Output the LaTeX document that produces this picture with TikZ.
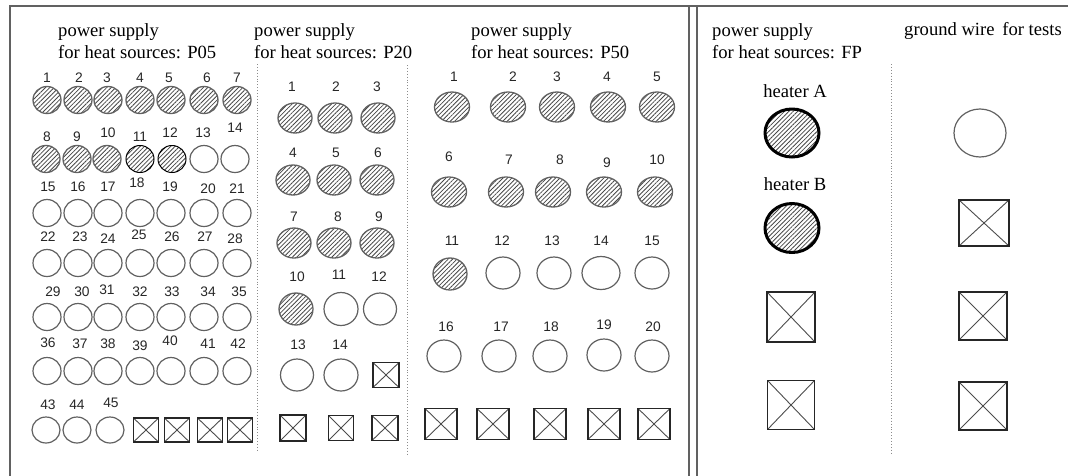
\documentclass[tikz,border=0pt]{standalone}
\usepackage{fontspec}
\setmainfont{Liberation Serif}
\newfontfamily\numfont{Liberation Sans}
\usetikzlibrary{shapes.geometric,patterns.meta}

\begin{document}
\begin{tikzpicture}[x=1pt,y=-1pt,
  frame/.style={draw=black!62, line width=1.3pt},
  divider/.style={draw=black!45, line width=0.9pt, dotted},
  title/.style={anchor=base west, font=\fontsize{18.6}{20}\selectfont, inner sep=0pt},
  heatlbl/.style={anchor=base, font=\fontsize{18.6}{20}\selectfont, inner sep=0pt},
  num/.style={font=\numfont\fontsize{13.8}{15}\selectfont, inner sep=0pt, text=black!85},
  hot/.style={ellipse, draw=black!62, line width=1.3pt, inner sep=0pt,
    pattern={Lines[angle=45,distance=3.1pt,line width=0.8pt]}, pattern color=black!72},
  hotdark/.style={hot, draw=black, line width=1pt},
  heater/.style={hot, draw=black, line width=3pt},
  cold/.style={ellipse, draw=black!62, line width=1.2pt, inner sep=0pt},
  plug/.style={draw=black!85, line width=1.4pt, inner sep=0pt,
    path picture={\draw[black!70, line width=0.9pt]
      (path picture bounding box.north west) -- (path picture bounding box.south east)
      (path picture bounding box.south west) -- (path picture bounding box.north east);}},
  sz/.style 2 args={minimum width=#1pt, minimum height=#2pt}
]
\useasboundingbox (0,0) rectangle (1068,475);

% ---- frames ----
\draw[frame] (10,480) -- (10,6) -- (1075,6);
\draw[frame] (689,480) -- (689,6);
\draw[frame] (697,480) -- (697,6);

% ---- dotted dividers ----
\draw[divider] (257,64) -- (257,451);
\draw[divider] (407,65) -- (407,456);
\draw[divider] (891,64) -- (891,453);

% ---- titles ----
\node[title] (t05a) at (58,36) {power supply};
\node[title] (t05b) at (58,58) {for heat sources: P05};
\node[title] (t20a) at (254,36) {power supply};
\node[title] (t20b) at (254,58) {for heat sources: P20};
\node[title] (t50a) at (471,36) {power supply};
\node[title] (t50b) at (471,58) {for heat sources: P50};
\node[title] (tfpa) at (712,36) {power supply};
\node[title] (tfpb) at (712,58) {for heat sources: FP};
\node[title] (tgnd) at (904,35) {ground wire\,\ for tests};

% ---- P05 ----
\foreach \n/\x/\y in {1/47/100,2/78/100,3/108/100,4/140/100,5/171/100,6/204/100,7/237/100,
                      8/46/159,9/77/159,10/107/159}
  \node[hot, sz={28}{27}] (a\n) at (\x,\y) {};
\foreach \n/\x/\y in {11/140/159,12/172/159}
  \node[hotdark, sz={28}{27}] (a\n) at (\x,\y) {};
\node[cold, sz={28}{27}] (a13) at (204,159) {};
\node[cold, sz={28}{27}] (a14) at (235,159) {};
\foreach \r/\y in {2/213,3/263,4/317,5/371}
  \foreach \c/\x in {1/47,2/78,3/108,4/140,5/171,6/204,7/237}
    \pgfmathtruncatemacro{\n}{\r*7+\c}
    \node[cold, sz={28}{27}] (a\n) at (\x,\y) {};
\node[cold, sz={28}{26}] (a43) at (46,430) {};
\node[cold, sz={28}{26}] (a44) at (77,430) {};
\node[cold, sz={28}{26}] (a45) at (110,430) {};
\foreach \k/\x in {1/146,2/177,3/210,4/240}
  \node[plug, sz={25}{24}] (ab\k) at (\x,430) {};
\foreach \n/\x/\y in {1/47/78,2/79/78,3/107/78,4/140/78,5/169/78,6/207/78,7/237/78,
  8/47/137,9/77/137,10/108/133,11/140/137,12/170/133,13/203/133,14/235/128,
  15/48/187,16/78/187,17/108/187,18/137/183,19/170/187,20/208/189,21/237/189,
  22/48/237,23/80/237,24/108/239,25/139/235,26/172/237,27/205/237,28/235/239,
  29/53/292,30/82/292,31/107/290,32/140/292,33/172/292,34/208/292,35/239/292,
  36/48/343,37/80/344,38/108/344,39/140/346,40/170/341,41/208/344,42/238/344,
  43/48/405,44/77/405,45/111/403}
  \node[num] (la\n) at (\x,\y) {\n};

% ---- P20 ----
\foreach \n/\x/\y in {1/295/118,2/335/118,3/378/118,4/293/180,5/334/180,6/377/180,
                      7/294/243,8/334/243,9/377/243}
  \node[hot, sz={34}{30}] (b\n) at (\x,\y) {};
\node[hot, sz={34}{32}] (b10) at (296,309) {};
\node[cold, sz={34}{33}] (b11) at (341,309) {};
\node[cold, sz={33}{32}] (b12) at (380,309) {};
\node[cold, sz={33}{32}] (b13) at (297,375) {};
\node[cold, sz={34}{32}] (b14) at (341,375) {};
\node[plug, sz={26}{25}] (bb1) at (386,375) {};
\node[plug, sz={26}{26}] (bb2) at (293,428) {};
\node[plug, sz={25}{25}] (bb3) at (341,428) {};
\node[plug, sz={26}{25}] (bb4) at (385,428) {};
\foreach \n/\x/\y in {1/292/87,2/336/87,3/377/87,4/293/153,5/336/153,6/378/153,
  7/294/217,8/338/217,9/379/217,10/297/277,11/339/275,12/379/277,13/298/345,14/340/345}
  \node[num] (lb\n) at (\x,\y) {\n};

% ---- P50 ----
\foreach \n/\x/\y in {1/452/107,2/508/107,3/557/107,4/608/107,5/657/107,
                      6/449/192,7/506/192,8/553/192,9/604/192,10/655/192}
  \node[hot, sz={35}{30}] (c\n) at (\x,\y) {};
\node[hot, sz={34}{32}] (c11) at (450,274) {};
\foreach \n/\x/\y in {12/503/273,13/554/273,15/652/273,
                      16/444/356,17/499/356,18/550/356,19/604/355,20/652/356}
  \node[cold, sz={34}{32}] (c\n) at (\x,\y) {};
\node[cold, sz={38}{33}] (c14) at (601,273) {};
\foreach \k/\x in {1/441,2/493,3/550,4/604,5/654}
  \node[plug, sz={32}{31}] (cb\k) at (\x,424) {};
\foreach \n/\x/\y in {1/454/77,2/513/77,3/557/77,4/607/77,5/657/77,
  6/449/157,7/509/160,8/560/160,9/607/163,10/657/160,
  11/452/241,12/502/241,13/552/241,14/601/241,15/652/241,
  16/446/327,17/501/327,18/551/327,19/604/325,20/653/327}
  \node[num] (lc\n) at (\x,\y) {\n};

% ---- FP ----
\node[heatlbl] (lha) at (795,97) {heater A};
\node[heater, sz={54}{48}] (ha) at (792,133) {};
\node[heatlbl] (lhb) at (795,190) {heater B};
\node[heater, sz={54}{49}] (hb) at (792,228) {};
\node[plug, sz={48}{50}] (fb1) at (791,317) {};
\node[plug, sz={47}{49}] (fb2) at (791,405) {};

% ---- ground wire ----
\node[cold, sz={52}{48}] (g0) at (980,133) {};
\node[plug, sz={50}{46}] (gb1) at (984,223) {};
\node[plug, sz={48}{48}] (gb2) at (983,316) {};
\node[plug, sz={48}{48}] (gb3) at (983,406) {};
\end{tikzpicture}
\end{document}
